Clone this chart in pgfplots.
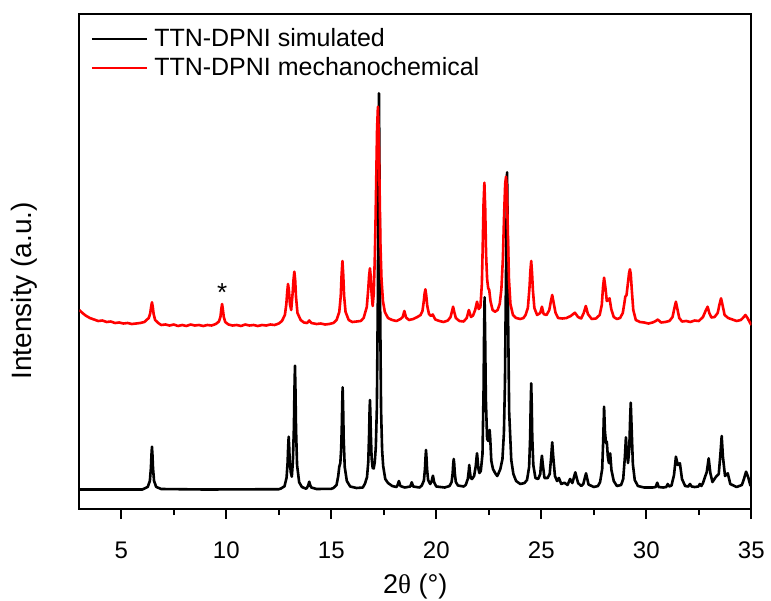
\documentclass[border=0pt]{standalone}
\usepackage{fontspec}
\setmainfont{Liberation Sans}
\newfontfamily\serifgreek{Liberation Serif}
\usepackage{pgfplots}
\pgfplotsset{compat=1.18}
\begin{document}
\begin{tikzpicture}
\begin{axis}[
  at={(0pt,0pt)}, anchor=south west,
  scale only axis, width=336pt, height=247.5pt,
  xmin=3, xmax=35, ymin=0, ymax=495,
  xtick={5,10,15,20,25,30,35}, minor x tick num=1,
  ytick=\empty,
  xtick pos=left, tick align=outside,
  major tick length=5pt, minor tick length=3pt,
  every tick/.append style={black, line width=1pt},
  axis line style={line width=1pt},
  /pgf/number format/assume math mode=true,
  xticklabel style={font=\fontsize{12}{14}\selectfont, anchor=base, yshift=-19.65pt},
  xlabel={2{\serifgreek θ} (°)},
  xlabel style={font=\fontsize{13.5}{15}\selectfont, at={(axis description cs:0.5,-0.1703)}, anchor=base},
  ylabel={Intensity (a.u.)},
  ylabel style={font=\fontsize{14}{16}\selectfont, at={(axis description cs:-0.0708,0.441)}, anchor=base},
  legend style={at={(axis description cs:0.0074,0.988)}, anchor=north west, draw=none, fill=none,
    font=\fontsize{12.5}{15}\selectfont, row sep=0pt},
  legend cell align=left,
  legend image code/.code={\draw[#1] (0pt,0pt) -- (27.5pt,0pt); \path (28.5pt,0pt);},
]
\addplot[black, line width=1.3pt, line join=round] coordinates {
(3,19.5)(6.0,19.5)(6.26,22.1)(6.36,28.1)(6.41,40.9)(6.435,53.7)(6.46,62.3)(6.485,53.7)(6.51,40.9)(6.56,28.1)(6.66,22.1)(6.9,20)(9,19.5)(12.5,19.8)
(12.6,20.5)(12.77,22.7)(12.87,31.2)(12.92,46.7)(12.945,61.8)(12.97,72.3)(12.995,62.3)(13.02,48.1)(13.07,36.7)(13.12,32.3)(13.17,46.9)(13.22,82)(13.245,118.5)(13.27,143.3)(13.295,118)(13.32,80.5)(13.37,44)(13.47,26.7)(13.6,22)(13.8,20.3)
(13.85,21.5)(13.9,23.5)(13.95,27.3)(14.0,23.5)(14.05,21.5)(14.3,20)(15.0,20.2)
(15.1,21)(15.25,24)(15.33,33)(15.38,42.3)(15.43,46)(15.47,60)(15.5,83)(15.52,105)(15.54,121.7)(15.565,100)(15.59,70)(15.64,42)(15.74,28)(15.9,22.5)(16.2,21)(16.5,21.5)
(16.6,25.2)(16.7,31.8)(16.76,46.8)(16.8,75)(16.82,96)(16.84,109)(16.86,97.3)(16.88,77)(16.92,51)(16.97,41)(17.02,40.5)(17.07,47)(17.12,62)(17.17,101)(17.22,219)(17.245,338)(17.27,415.7)(17.295,338)(17.32,218)(17.37,99)(17.42,59)(17.47,43)(17.57,30)(17.7,26)(17.9,23)(18.1,22)
(18.15,23.5)(18.22,28)(18.29,23)(18.5,21.5)(18.76,22.5)(18.83,26.7)(18.9,22.5)(19.2,21.5)
(19.31,23.5)(19.41,28.5)(19.46,40)(19.485,51)(19.51,59)(19.535,51)(19.56,40)(19.61,29)(19.71,25)(19.78,28)(19.84,33.3)(19.9,26.5)(20.0,22.5)(20.4,21.5)
(20.63,23)(20.73,27)(20.78,36)(20.805,45)(20.83,50)(20.855,45)(20.88,36)(20.93,27)(21.03,23.5)(21.3,22.5)
(21.4,24)(21.5,30)(21.545,38)(21.57,44)(21.595,38)(21.64,31)(21.7,30)(21.8,33)(21.88,43)(21.915,51)(21.94,55.7)(21.965,50)(22.0,41)(22.05,36)(22.12,38)(22.2,55)(22.25,118)(22.275,175)(22.3,211.7)(22.325,175)(22.36,110)(22.42,70)(22.48,68)(22.515,77)(22.54,79)(22.57,70)(22.62,48)(22.7,40)(22.8,36)(22.9,33)(22.97,36)(23.05,40)(23.15,50)(23.22,76)(23.27,127)(23.32,236)(23.345,290)(23.37,336.7)(23.395,290)(23.42,190)(23.47,97)(23.57,49)(23.67,35)(23.8,28)(24.0,25)(24.2,26)
(24.32,29)(24.42,42)(24.47,72)(24.495,104)(24.52,125.7)(24.545,104)(24.57,72)(24.62,44)(24.72,31)(24.85,30)(24.95,35)(24.99,46)(25.03,53.3)(25.07,45)(25.15,31)(25.3,31)(25.4,35)(25.47,52)(25.52,66.7)(25.57,52)(25.65,33)(25.75,28)(25.84,31)(25.95,25)(26.1,26.3)(26.25,24)(26.37,30)(26.48,26)(26.62,36.7)(26.75,26)(26.9,23)(27.0,25)(27.13,35.7)(27.25,24.5)(27.5,22)(27.7,23)
(27.8,27)(27.9,40)(27.95,70)(27.99,102.3)(28.03,78)(28.08,66)(28.12,67.3)(28.17,52)(28.22,46)(28.28,55.7)(28.34,39)(28.45,28)(28.6,23)(28.8,24)(28.9,30)(28.98,52)(29.03,71.7)(29.08,55)(29.13,46)(29.19,60)(29.23,90)(29.26,106.3)(29.3,82)(29.36,45)(29.45,29)(29.6,23)(29.9,21.5)(30.3,21.5)
(30.45,22)(30.52,26.3)(30.59,22)(30.8,21.5)(30.95,22)(31.02,25)(31.09,22.5)(31.2,23.5)(31.32,34)(31.41,52.3)(31.5,44)(31.6,45.7)(31.7,30)(31.85,23)(32.0,22.5)(32.08,25)(32.16,22.5)(32.3,22)(32.48,22.5)(32.55,25)(32.62,23)(32.7,26)(32.8,32.3)(32.88,37)(32.97,50.7)(33.05,36)(33.15,27)(33.32,32.3)(33.45,35)(33.53,55)(33.59,73)(33.65,52)(33.75,33)(33.88,35.7)(34.0,25)(34.3,22)(34.55,24)(34.65,30)(34.75,37.3)(34.85,32)(34.95,24)(35,23)
};
\addlegendentry{TTN-DPNI simulated}
\addplot[red, line width=1.3pt, line join=round] coordinates {
(3.0,199)(3.15,196)(3.3,193.5)(3.5,191)(3.7,189.5)(3.9,188)(4.1,188.5)(4.3,187)(4.5,187.5)(4.7,186)(4.9,186.5)(5.1,185.5)(5.3,186)(5.5,185)(5.7,185.5)(5.9,186)(6.1,187)
(6.2,189)(6.31,191)(6.38,196)(6.42,202)(6.46,206.7)(6.5,202)(6.54,195)(6.61,189)(6.76,186)(6.9,184)
(7.1,184.5)(7.3,183.5)(7.5,184.5)(7.7,183)(7.9,184)(8.1,183)(8.3,184.5)(8.5,183.5)(8.7,184)(8.9,183)(9.1,184)(9.3,183.5)(9.5,185)
(9.65,187.5)(9.72,192)(9.76,199.5)(9.8,205)(9.84,199)(9.88,192)(9.95,187)
(10.1,184.5)(10.3,183.5)(10.5,184)(10.7,183)(10.9,184.5)(11.1,183.5)(11.3,184)(11.5,183)(11.7,184)(11.9,183.5)(12.1,184.5)(12.3,184)(12.5,185.5)
(12.65,188)(12.79,194)(12.86,205)(12.9,217)(12.94,225)(12.98,219)(13.03,205)(13.09,199)(13.16,216)(13.2,229)(13.24,237.3)(13.28,229)(13.32,212)(13.39,196)(13.54,189)(13.7,186.5)(13.85,186)(13.95,188.5)(14.05,186)(14.3,185)(14.5,185.5)(14.7,184.5)(14.9,185)
(15.1,186)(15.25,189)(15.38,197)(15.45,213)(15.49,234)(15.53,248)(15.57,234)(15.61,213)(15.68,197)(15.83,189)(16.0,187)(16.2,187.5)(16.4,188)
(16.54,191)(16.69,202)(16.76,220)(16.8,233)(16.84,240.7)(16.88,232)(16.92,215)(16.97,203)(17.02,215)(17.07,250)(17.1,280)(17.14,330)(17.18,380)(17.22,402.3)(17.26,375)(17.3,320)(17.34,265)(17.39,230)(17.46,208)(17.55,197)(17.7,191)(17.9,189)(18.1,188)
(18.3,190)(18.4,192)(18.48,198)(18.56,191.5)(18.7,189)(18.9,190)(19.1,192)(19.25,194)
(19.34,198)(19.4,207)(19.44,215)(19.48,219.7)(19.52,214)(19.57,203)(19.65,195)(19.75,193)(19.83,194.5)(19.95,189.5)(20.15,188)(20.35,187)(20.55,188.5)
(20.68,192)(20.75,198)(20.8,202.3)(20.85,197.5)(20.93,191)(21.1,188)(21.3,187.5)
(21.45,191)(21.55,199)(21.65,192)(21.75,193.5)(21.85,199)(21.94,207.3)(22.02,200)(22.1,202)(22.17,225)(22.21,262)(22.25,305)(22.29,326.3)(22.33,300)(22.37,255)(22.42,230)(22.47,221)(22.52,219)(22.58,208)(22.68,199)(22.8,197.3)(22.92,199)(23.02,205)(23.1,220)(23.17,250)(23.23,295)(23.28,325)(23.32,332.3)(23.36,320)(23.41,275)(23.46,230)(23.53,205)(23.65,194)(23.8,191)(24.0,190)(24.15,191)
(24.25,194)(24.36,201)(24.44,222)(24.48,238)(24.52,248)(24.56,236)(24.6,219)(24.67,201)(24.8,194)(24.95,196)(25.03,202.3)(25.11,195)(25.25,194)(25.38,199)(25.45,207)(25.52,214)(25.59,206)(25.68,196)(25.8,191)(26.0,190.5)(26.2,191)(26.4,193)(26.6,196.3)(26.75,192)(26.9,190.5)(27.02,196)(27.12,203)(27.22,195)(27.4,190)(27.6,190.5)
(27.78,194)(27.88,204)(27.94,222)(27.99,231.3)(28.05,222)(28.12,208)(28.19,209)(28.25,210.7)(28.33,200)(28.45,192)(28.6,190)(28.75,191)(28.88,196)(28.95,205)(29.0,212.3)(29.06,214)(29.12,225)(29.18,236)(29.22,239.7)(29.26,235)(29.31,219)(29.38,199)(29.5,189)(29.7,187)(29.9,186.5)
(30.1,185.5)(30.3,186.5)(30.45,188)(30.55,189.5)(30.7,186.5)(30.9,187)(31.1,188)(31.25,192)(31.34,201)(31.41,207.3)(31.48,200)(31.57,191)(31.7,187.5)(31.9,188)(32.1,187)(32.3,188.5)(32.5,188)
(32.7,192)(32.82,198)(32.92,202.3)(33.0,196)(33.1,191.5)(33.25,192)(33.4,196)(33.49,205)(33.56,210.7)(33.63,204)(33.73,194)(33.9,191)(34.1,189.5)(34.3,188)(34.5,189)(34.6,191)(34.72,194)(34.82,191)(34.92,187)(35.0,184)
};
\addlegendentry{TTN-DPNI mechanochemical}
\node[font=\fontsize{13}{15}\selectfont] at (axis cs:9.8,216) {*};
\end{axis}
\pgfresetboundingbox
\path[use as bounding box] (-39.65pt,-45.5pt) rectangle (345.85pt,254.5pt);
\end{tikzpicture}
\end{document}
